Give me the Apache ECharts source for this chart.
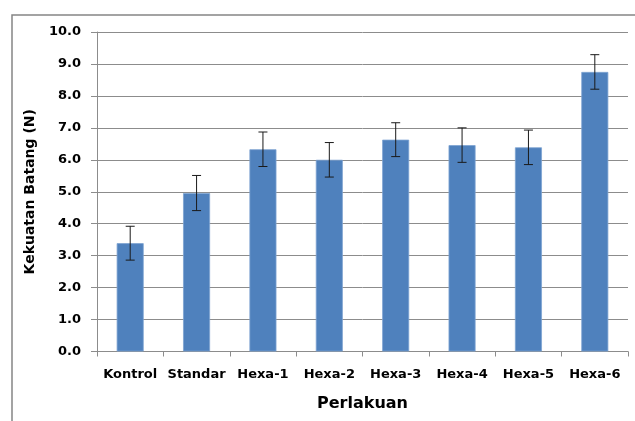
<!DOCTYPE html>
<html><head><meta charset="utf-8">
<script src="https://cdn.jsdelivr.net/npm/echarts@6/dist/echarts.min.js"></script>
<style>html,body{margin:0;padding:0;background:#fff}#c{width:635px;height:421px}</style>
</head><body><div id="c"></div>
<script>
var categories = ['Kontrol','Standar','Hexa-1','Hexa-2','Hexa-3','Hexa-4','Hexa-5','Hexa-6'];
var values = [3.39, 4.96, 6.33, 6.00, 6.63, 6.46, 6.39, 8.75];
var errors = [0.53, 0.55, 0.54, 0.54, 0.53, 0.54, 0.54, 0.54];
var yTicks = [0,1,2,3,4,5,6,7,8,9,10];

var errData = values.map(function(v,i){ return [i, v - errors[i], v + errors[i]]; });
var font = '"DejaVu Sans", sans-serif';
var chart = echarts.init(document.getElementById('c'));
chart.setOption({
  animation:false,
  graphic:[{type:'rect', shape:{x:12,y:15,width:700,height:500}, style:{fill:'none', stroke:'#858585', lineWidth:1.5}, z:-1}],
  grid:{left:97, right:7, top:32, bottom:69.5},
  xAxis:{type:'category', data:categories,
    name:'Perlakuan', nameLocation:'middle', nameGap:44,
    nameTextStyle:{fontFamily:font, fontWeight:'bold', fontSize:16, color:'#000'},
    axisLine:{lineStyle:{color:'#8c8c8c', width:1}},
    axisTick:{show:true, alignWithLabel:false, length:5, lineStyle:{color:'#8c8c8c'}},
    axisLabel:{fontFamily:font, fontWeight:'bold', fontSize:13, color:'#000', margin:17, interval:0}
  },
  yAxis:{type:'value', min:0, max:10, interval:1,
    name:'Kekuatan Batang (N)', nameLocation:'middle', nameGap:60,
    nameTextStyle:{fontFamily:font, fontWeight:'bold', fontSize:14, color:'#000'},
    axisLine:{show:true, lineStyle:{color:'#8c8c8c', width:1}},
    axisTick:{show:true, length:6, lineStyle:{color:'#8c8c8c'}},
    axisLabel:{fontFamily:font, fontWeight:'bold', fontSize:13, color:'#000', margin:16,
      formatter:function(v){ return v.toFixed(1); }},
    splitLine:{show:true, lineStyle:{color:'#8c8c8c', width:1}}
  },
  series:[
    {type:'bar', data:values, barWidth:27,
      itemStyle:{color:'#4F81BD', borderColor:'#7ea3d2', borderWidth:0.8}},
    {type:'custom', data:errData, z:10,
      renderItem:function(params, api){
        var x = api.value(0);
        var lo = api.coord([x, api.value(1)]);
        var hi = api.coord([x, api.value(2)]);
        var hw = 4.5;
        var st = {stroke:'#1a1a1a', lineWidth:1};
        return {type:'group', children:[
          {type:'line', shape:{x1:lo[0], y1:lo[1], x2:hi[0], y2:hi[1]}, style:st},
          {type:'line', shape:{x1:lo[0]-hw, y1:lo[1], x2:lo[0]+hw, y2:lo[1]}, style:st},
          {type:'line', shape:{x1:hi[0]-hw, y1:hi[1], x2:hi[0]+hw, y2:hi[1]}, style:st}
        ]};
      }
    }
  ]
});
</script></body></html>
